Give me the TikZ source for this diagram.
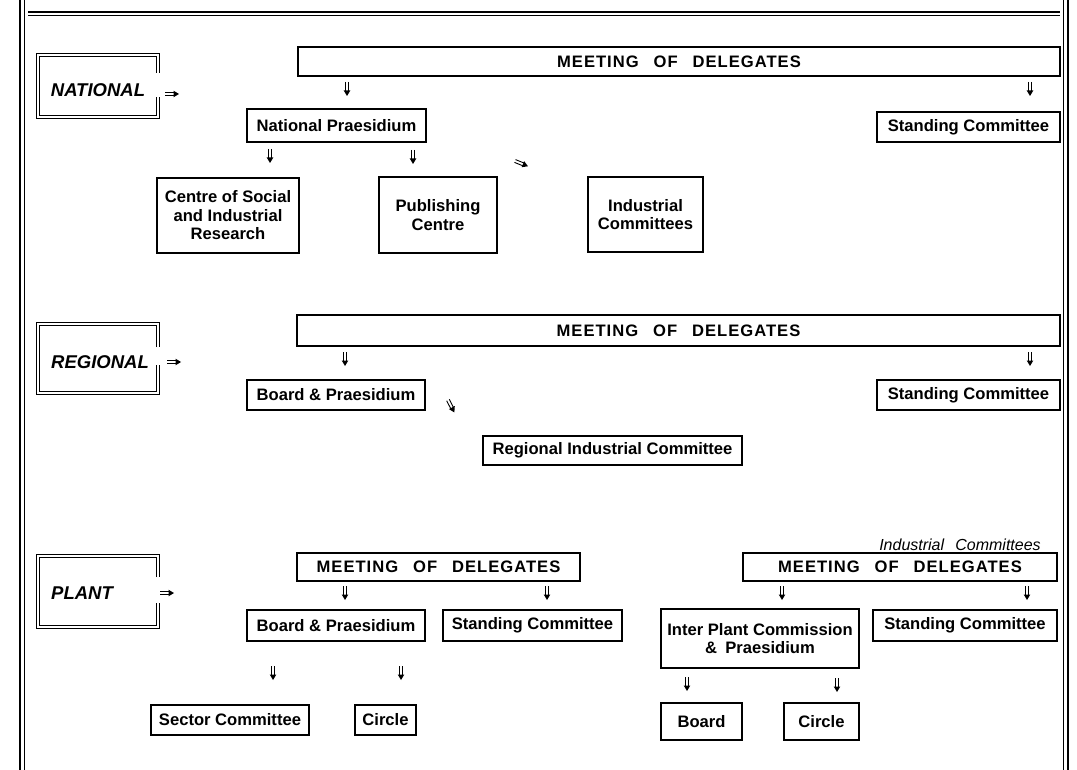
\documentclass[tikz,border=0pt]{standalone}
\usepackage{fontspec}
\setmainfont{Liberation Sans}
\usetikzlibrary{arrows.meta, positioning}

\begin{document}
\begin{tikzpicture}[x=1pt, y=-1pt,
    unit/.style={draw, line width=1.1pt, inner sep=2pt, align=center, font=\bfseries\fontsize{16.6}{18.5}\selectfont},
    meet/.style={unit, font=\bfseries\fontsize{16.6}{18.5}\selectfont\addfontfeature{LetterSpace=6}},
    level/.style={font=\bfseries\itshape\fontsize{18.5}{22}\selectfont},
    frame/.style={double, double distance=2.6pt, line width=1pt},
    darr/.pic={
      \draw[line width=0.9pt] (-1.5,0) -- (-1.5,9) (1.5,0) -- (1.5,9);
      \fill (-3.3,8.5) -- (3.3,8.5) -- (0,14) -- cycle;
    },
    >=Stealth]
    \useasboundingbox (0,0) rectangle (1077,770);

    % page frame
    \draw[line width=1.2pt] (20,0) -- (20,770) (24.5,0) -- (24.5,770);
    \draw[line width=1.2pt] (1063.5,0) -- (1063.5,770) (1068,0) -- (1068,770);
    \draw[line width=1.2pt] (28,12) -- (1060,12) (28,15.5) -- (1060,15.5);

    % levels
    \draw[frame] (158,73) |- (38,55) |- (158,117) -- (158,97);
    \node[level] (natL) at (98,90) {NATIONAL};
    \draw[frame] (158,347) |- (38,324) |- (158,393) -- (158,365);
    \node[level] (regL) at (100,362) {REGIONAL};
    \draw[frame] (158,577) |- (38,556) |- (158,627) -- (158,603);
    \node[level] (plaL) at (82,593) {PLANT};

    % national
    \node[meet, minimum width=762pt, minimum height=29pt] (mN) at (679,61.5) {MEETING\hspace{0.9em}OF\hspace{0.9em}DELEGATES};
    \node[unit, minimum width=179pt, minimum height=33pt] (pN) at (336.5,125.5) {National Praesidium};
    \node[unit, minimum width=183pt, minimum height=30pt] (sN) at (968.5,127) {Standing Committee};
    \node[unit, minimum width=142pt, minimum height=75pt] (cN) at (228,215.5) {Centre of Social\\and Industrial\\Research};
    \node[unit, minimum width=118pt, minimum height=76pt] (pubN) at (438,215) {Publishing\\Centre};
    \node[unit, minimum width=115pt, minimum height=75pt] (iN) at (645.5,214.5) {Industrial\\Committees};

    % regional
    \node[meet, minimum width=763pt, minimum height=31pt] (mR) at (678.5,330.5) {MEETING\hspace{0.9em}OF\hspace{0.9em}DELEGATES};
    \node[unit, minimum width=178pt, minimum height=30pt] (bR) at (336,395) {Board \& Praesidium};
    \node[unit, minimum width=183pt, minimum height=30pt] (sR) at (968.5,395) {Standing Committee};
    \node[unit, minimum width=259pt, minimum height=29pt] (iR) at (612.5,450.5) {Regional Industrial Committee};

    % plant
    \node[font=\itshape\fontsize{16}{19}\selectfont] (iLab) at (960,545) {Industrial\hspace{0.7em}Committees};
    \node[meet, minimum width=283pt, minimum height=28pt] (mP) at (438.5,567) {MEETING\hspace{0.9em}OF\hspace{0.9em}DELEGATES};
    \node[meet, minimum width=314pt, minimum height=28pt] (mI) at (900,567) {MEETING\hspace{0.9em}OF\hspace{0.9em}DELEGATES};
    \node[unit, minimum width=178pt, minimum height=31pt] (bP) at (336,625.5) {Board \& Praesidium};
    \node[unit, minimum width=179pt, minimum height=31pt] (sP) at (532.5,625.5) {Standing Committee};
    \node[unit, minimum width=198pt, minimum height=59pt] (ipI) at (760,638.5) {Inter Plant Commission\\\&\hspace{0.5em}Praesidium};
    \node[unit, minimum width=184pt, minimum height=31pt] (sI) at (965,625.5) {Standing Committee};
    \node[unit, minimum width=158pt, minimum height=30pt] (secP) at (230,720) {Sector Committee};
    \node[unit, minimum width=61pt, minimum height=30pt] (cirP) at (385.5,720) {Circle};
    \node[unit, minimum width=81pt, minimum height=37pt] (brdI) at (701.5,721.5) {Board};
    \node[unit, minimum width=75pt, minimum height=37pt] (cirI) at (821.5,721.5) {Circle};

    % arrows
    \foreach \n/\x/\y in {aN1/347/82, aN2/1030/82, aN3/270/149, aN4/413/150,
        aR1/345/352, aR2/1030/352,
        aP1/345/586, aP2/547/586, aP3/782/586, aP4/1027/586,
        aP5/273/666, aP6/401/666, aP7/687/677, aP8/837/678}
      \coordinate (\n) at (\x,\y);
    \foreach \n in {aN1,aN2,aN3,aN4,aR1,aR2,aP1,aP2,aP3,aP4,aP5,aP6,aP7,aP8}
      \pic at (\n) {darr};
    \coordinate (lN) at (165,94);
    \coordinate (lR) at (167,362);
    \coordinate (lP) at (160,593);
    \foreach \n in {lN,lR,lP}
      \pic[rotate=90] at (\n) {darr};
    \coordinate (dN) at (515,161);
    \coordinate (dR) at (448,400);
    \pic[rotate=68] at (dN) {darr};
    \pic[rotate=27] at (dR) {darr};
\end{tikzpicture}
\end{document}
